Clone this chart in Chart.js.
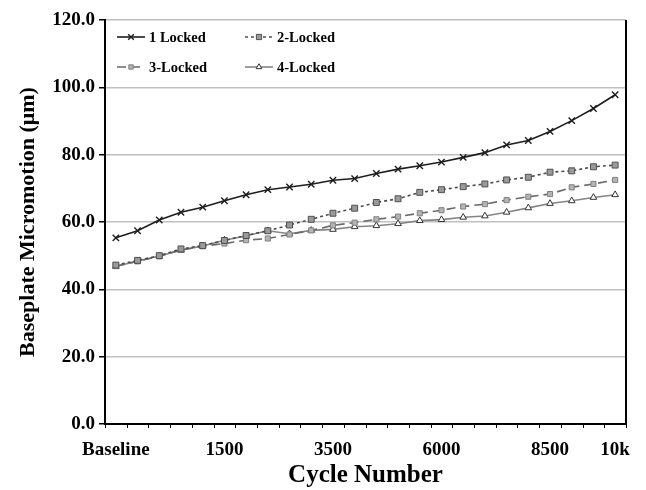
<!DOCTYPE html>
<html>
<head>
<meta charset="utf-8">
<script src="https://cdn.jsdelivr.net/npm/chart.js@4.4.1/dist/chart.umd.min.js"></script>
<style>
  html, body { margin: 0; padding: 0; background: #fff; }
  #wrap { width: 646px; height: 490px; }
</style>
</head>
<body>
<div id="wrap"><canvas id="myChart" width="646" height="490"></canvas></div>
<script>
// categories (only some of them carry a label on the axis)
var cycles = ['Baseline', '', '', '', '', '1500', '', '', '', '', '3500', '', '',
  '', '', '6000', '', '', '', '', '8500', '', '', '10k'];

var locked1 = [55.3, 57.4, 60.6, 62.9, 64.4, 66.3, 68.1, 69.6, 70.4, 71.2, 72.4, 72.9,
  74.4, 75.7, 76.7, 77.8, 79.2, 80.6, 82.9, 84.2, 86.9, 90.1, 93.7, 97.8];
var locked2 = [47.2, 48.6, 50.0, 52.0, 53.0, 54.5, 56.0, 57.4, 59.1, 60.8, 62.6, 64.1,
  65.8, 66.9, 68.8, 69.6, 70.5, 71.3, 72.5, 73.3, 74.8, 75.2, 76.4, 76.9];
var locked3 = [46.9, 48.3, 49.8, 51.7, 52.8, 53.6, 54.6, 55.1, 56.3, 57.5, 59.0, 59.8,
  60.8, 61.6, 62.6, 63.5, 64.6, 65.3, 66.5, 67.5, 68.3, 70.3, 71.3, 72.5];
var locked4 = [46.8, 48.4, 49.9, 51.6, 52.9, 54.6, 55.9, 57.4, 56.5, 57.5, 57.8, 58.6,
  58.9, 59.5, 60.4, 60.7, 61.4, 61.8, 62.9, 64.2, 65.5, 66.3, 67.3, 68.1];

var yTicks = [0, 20, 40, 60, 80, 100, 120];

var serif = '"Liberation Serif", "Times New Roman", serif';

// legend drawn inside the plot, 2 columns like excel
var insideLegend = {
  id: 'insideLegend',
  afterDraw: function(chart) {
    var ctx = chart.ctx;
    var area = chart.chartArea;
    var spots = [[area.left + 12, area.top + 17], [area.left + 140, area.top + 17],
      [area.left + 12, area.top + 47], [area.left + 140, area.top + 47]];
    ctx.save();
    chart.data.datasets.forEach(function(ds, i) {
      var x = spots[i][0], y = spots[i][1];
      ctx.strokeStyle = ds.borderColor;
      ctx.lineWidth = ds.borderWidth;
      ctx.setLineDash(ds.borderDash || []);
      ctx.beginPath();
      ctx.moveTo(x, y);
      ctx.lineTo(x + 28, y);
      ctx.stroke();
      ctx.setLineDash([]);
      ctx.fillStyle = ds.pointBackgroundColor;
      ctx.strokeStyle = ds.pointBorderColor;
      ctx.lineWidth = ds.pointBorderWidth;
      Chart.helpers.drawPoint(ctx, {
        pointStyle: ds.pointStyle, radius: ds.pointRadius - 0.5, rotation: 0,
        borderWidth: ds.pointBorderWidth
      }, x + 14, y);
      ctx.fillStyle = '#000';
      ctx.font = 'bold 14.5px ' + serif;
      ctx.textBaseline = 'middle';
      ctx.fillText(ds.label, x + 32, y + 1);
    });
    ctx.restore();
  }
};

// right frame line + small ticks between categories
var frame = {
  id: 'frame',
  afterDraw: function(chart) {
    var ctx = chart.ctx;
    var area = chart.chartArea;
    var n = cycles.length;
    ctx.save();
    ctx.strokeStyle = '#000';
    ctx.lineWidth = 2;
    ctx.beginPath();
    ctx.moveTo(area.right, area.top);
    ctx.lineTo(area.right, area.bottom + 1);
    ctx.stroke();
    ctx.lineWidth = 1;
    for (var i = 0; i <= n; i++) {
      var x = Math.round(area.left + i * (area.right - area.left) / n) + 0.5;
      ctx.beginPath();
      ctx.moveTo(x, area.bottom);
      ctx.lineTo(x, area.bottom + 4);
      ctx.stroke();
    }
    ctx.restore();
  }
};

var ctx = document.getElementById('myChart').getContext('2d');
var chart = new Chart(ctx, {
  type: 'line',
  data: {
    labels: cycles,
    datasets: [{
      label: '1 Locked',
      data: locked1,
      borderColor: '#1e1e1e',
      borderWidth: 1.6,
      pointStyle: 'crossRot',
      pointRadius: 4.5,
      pointBorderWidth: 1.4,
      pointBorderColor: '#1e1e1e',
      pointBackgroundColor: '#1e1e1e'
    }, {
      label: '2-Locked',
      data: locked2,
      borderColor: '#4d4d4d',
      borderWidth: 1.6,
      borderDash: [3, 3],
      pointStyle: 'rect',
      pointRadius: 4.2,
      pointBorderWidth: 1,
      pointBorderColor: '#505050',
      pointBackgroundColor: '#9a9a9a'
    }, {
      label: '3-Locked',
      data: locked3,
      borderColor: '#6a6a6a',
      borderWidth: 1.6,
      borderDash: [9, 5],
      pointStyle: 'rect',
      pointRadius: 3.6,
      pointBorderWidth: 1,
      pointBorderColor: '#808080',
      pointBackgroundColor: '#b4b4b4'
    }, {
      label: '4-Locked',
      data: locked4,
      borderColor: '#858585',
      borderWidth: 1.6,
      pointStyle: 'triangle',
      pointRadius: 3.8,
      pointBorderWidth: 1,
      pointBorderColor: '#333333',
      pointBackgroundColor: '#ffffff'
    }]
  },
  options: {
    responsive: false,
    animation: false,
    layout: { padding: { top: 20, right: 20, left: 0, bottom: 0 } },
    plugins: {
      legend: { display: false },
      tooltip: { enabled: false }
    },
    scales: {
      x: {
        offset: true,
        grid: { display: false, offset: true },
        border: { color: '#000', width: 2 },
        ticks: {
          autoSkip: false, maxRotation: 0, minRotation: 0, padding: 7,
          color: '#000', font: { family: serif, size: 19, weight: 'bold' }
        },
        title: {
          display: true, text: 'Cycle Number', color: '#000',
          font: { family: serif, size: 25, weight: 'bold', lineHeight: 1 },
          padding: { top: 0, bottom: 2 }
        },
        afterFit: function(s) { s.height = 66; }
      },
      y: {
        min: 0,
        max: 120,
        afterBuildTicks: function(s) {
          s.ticks = yTicks.map(function(v) { return { value: v }; });
        },
        grid: { color: '#c0c0c0', lineWidth: 1.5, tickLength: 6, tickColor: '#000' },
        border: { color: '#000', width: 2 },
        ticks: {
          padding: 4, color: '#000',
          font: { family: serif, size: 19, weight: 'bold' },
          callback: function(v) { return Number(v).toFixed(1); }
        },
        title: {
          display: true, text: 'Baseplate Micromotion (μm)', color: '#000',
          font: { family: serif, size: 22, weight: 'bold', lineHeight: 1 },
          padding: { top: 17, bottom: 0 }
        },
        afterFit: function(s) { s.width = 105; }
      }
    }
  },
  plugins: [insideLegend, frame]
});
</script>
</body>
</html>
